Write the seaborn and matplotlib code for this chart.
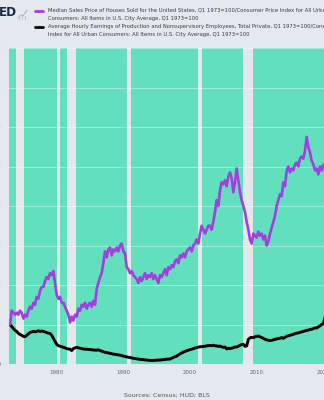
import numpy as np
import pandas as pd
import matplotlib
matplotlib.use("Agg")
import matplotlib.pyplot as plt
from matplotlib.lines import Line2D
import seaborn as sns

# ---- data (quarterly, Q1 1973 = 100) ----
start_year = 1973
house_price = [
    100, 107, 106, 105,  106, 105, 107, 106,  103, 105, 104, 107,  109, 108, 111, 110,
    114, 113, 117, 119,  119, 122, 124, 123,  126, 125, 127, 121,  115, 113, 114, 111,
    111, 109, 107, 105,  101, 104, 102, 105,  104, 108, 107, 110,  109, 111, 108, 110,
    111, 109, 112, 110,  118, 121, 124, 126,  131, 137, 134, 138,  139, 135, 138, 137,
    139, 137, 140, 141,  137, 136, 129, 128,  126, 127, 125, 124,  123, 121, 124, 122,
    124, 126, 123, 125,  124, 126, 123, 125,  123, 121, 125, 124,  126, 128, 125, 129,
    128, 130, 129, 132,  133, 131, 135, 134,  136, 134, 137, 138,  139, 137, 140, 141,
    143, 141, 146, 150,  148, 146, 148, 150,  150, 148, 152, 157,  163, 160, 168, 172,
    171, 173, 170, 175,  177, 174, 167, 172,  179, 173, 167, 163,  160, 157, 152, 148,
    143, 141, 146, 145,  144, 147, 145, 146,  143, 145, 140, 142,  146, 149, 152, 155,
    160, 163, 166, 165,  172, 170, 178, 180,  177, 179, 178, 181,  182, 180, 184, 185,
    184, 188, 195, 190,  187, 183, 181, 178,  179, 176, 180, 178,  181, 180,
]
hourly_earnings = [
    100, 99, 98, 97,  96.5, 95.5, 95, 94.5,  94, 93.8, 94.5, 95.2,  96, 96.2, 96.5, 96.3,
    96.5, 96.8, 96.5, 96.7,  96.5, 96.2, 95.9, 95.6,  95.5, 94.5, 93, 91.5,  90, 89.3, 89, 88.8,
    88.4, 88.2, 87.8, 87.6,  87.5, 86.8, 87.8, 88.2,  88.4, 88.2, 88.0, 87.8,  87.6, 87.5, 87.5, 87.4,
    87.3, 87.2, 87.1, 87.0,  87, 87.2, 86.8, 86.5,  86.2, 85.9, 85.8, 85.6,  85.4, 85.2, 85.0, 84.9,
    84.8, 84.6, 84.5, 84.2,  84, 83.8, 83.6, 83.4,  83.3, 83.1, 82.9, 82.8,  82.6, 82.5, 82.3, 82.3,
    82.2, 82.1, 82.0, 81.9,  81.8, 81.8, 81.8, 81.9,  81.9, 82.0, 82.0, 82.1,  82.2, 82.3, 82.4, 82.5,
    82.5, 82.9, 83.3, 83.7,  84, 84.6, 85.1, 85.6,  86, 86.4, 86.7, 87.0,  87.3, 87.5, 87.8, 88.1,
    88.4, 88.5, 88.7, 88.8,  88.9, 89.0, 89.2, 89.3,  89.4, 89.3, 89.5, 89.2,  89.2, 88.9, 89.1, 88.7,
    88.4, 88.6, 87.6, 88.0,  87.8, 88.0, 88.3, 88.6,  88.6, 89.0, 89.5, 89.8,  90, 88.9, 89.2, 92.5,
    93.2, 93.5, 93.3, 93.8,  94, 94.2, 93.8, 93.4,  93.0, 92.5, 92.2, 92.0,  91.9, 92.0, 92.2, 92.5,
    92.7, 92.9, 93.0, 93.4,  93, 93.5, 94.0, 94.3,  94.5, 94.8, 95.0, 95.4,  95.6, 95.8, 96.0, 96.3,
    96.5, 96.8, 97.0, 97.2,  97.5, 97.6, 97.9, 98.3,  98.3, 98.8, 99.3, 100,  100.5, 103.5,
]
recession_start = [1973.83, 1980.0, 1981.5, 1990.5, 2001.17, 2007.92, 2020.08]
recession_end = [1975.17, 1980.5, 1982.83, 1991.17, 2001.83, 2009.42, 2020.3]
x_ticks = [1980, 1990, 2000, 2010, 2020]
y_ticks = [80, 100, 120, 140, 160, 180, 200, 220, 240]
legend_house = ["Median Sales Price of Houses Sold for the United States, Q1 1973=100/Consumer Price Index for All Urban",
                "Consumers: All Items in U.S. City Average, Q1 1973=100"]
legend_wage = ["Average Hourly Earnings of Production and Nonsupervisory Employees, Total Private, Q1 1973=100/Consumer Price",
               "Index for All Urban Consumers: All Items in U.S. City Average, Q1 1973=100"]
source_text = "Sources: Census; HUD; BLS"

df_house = pd.DataFrame({"date": start_year + np.arange(len(house_price)) / 4.0, "value": house_price})
df_wage = pd.DataFrame({"date": start_year + np.arange(len(hourly_earnings)) / 4.0, "value": hourly_earnings})

# ---- style ----
PAGE = "#e3e9ef"
GREEN = "#62dfbd"
BAND = "#e5e8ea"
PURPLE = "#a63de0"

sns.set_style("white")
plt.rcParams["font.family"] = ["DejaVu Sans"]

W, H = 324, 400
fig = plt.figure(figsize=(W / 100, H / 100), dpi=100, facecolor=PAGE)
left_px, top_px, bottom_px = 8.5, 48, 364
ax = fig.add_axes([left_px / W, (H - bottom_px) / H, 1 - left_px / W, (bottom_px - top_px) / H])
ax.set_facecolor(GREEN)

for s, e in zip(recession_start, recession_end):
    ax.axvspan(s, e, color=BAND, lw=0, zorder=0.5)

ax.set_xlim(1972.77, 2020.1)
ax.set_ylim(80, 240)
ax.set_yticks(y_ticks)
ax.set_xticks(x_ticks)
ax.grid(axis="y", color="white", alpha=0.45, lw=0.6, zorder=0.8)
ax.set_axisbelow(True)

sns.lineplot(data=df_wage, x="date", y="value", ax=ax, color="black", lw=2.1, zorder=3)
sns.lineplot(data=df_house, x="date", y="value", ax=ax, color=PURPLE, lw=1.9, zorder=3)

ax.set_xlabel("")
ax.set_ylabel("")
for sp in ax.spines.values():
    sp.set_visible(False)
ax.tick_params(axis="x", length=0, pad=4.5, labelsize=4, labelcolor="#666666")
ax.tick_params(axis="y", length=0, pad=5.2, labelsize=4, labelcolor="#666666")

# ---- header ----
fig.text(-1.5 / W, 1 - 12.5 / H, "ED", fontsize=9.5, fontweight="bold", color="#1c2b45",
         ha="left", va="center", fontstretch="condensed")
# small chart icon
icon = [[(18, 18), (21, 15), (23, 16), (27, 10)]]
for pts in icon:
    xs = [p[0] / W for p in pts]
    ys = [1 - p[1] / H for p in pts]
    fig.add_artist(Line2D(xs, ys, color="#a9bccd", lw=0.8))
for bx in (19, 22, 25):
    fig.add_artist(Line2D([bx / W, bx / W], [1 - 19 / H, 1 - 16 / H], color="#b7c7d5", lw=0.8))

fig.add_artist(Line2D([35 / W, 43 / W], [1 - 10.5 / H, 1 - 10.5 / H], color=PURPLE, lw=2.0))
fig.add_artist(Line2D([35 / W, 43 / W], [1 - 27 / H, 1 - 27 / H], color="black", lw=2.0))
for i, line in enumerate(legend_house + legend_wage):
    fig.text(48 / W, 1 - (10.3 + 8.2 * i) / H, line, fontsize=3.8, color="#3d3d3d",
             ha="left", va="center")

fig.text(167 / W, 4.5 / H, source_text, fontsize=4.5, color="#555555", ha="center", va="center")

fig.savefig("out.png", dpi=100, facecolor=PAGE)
